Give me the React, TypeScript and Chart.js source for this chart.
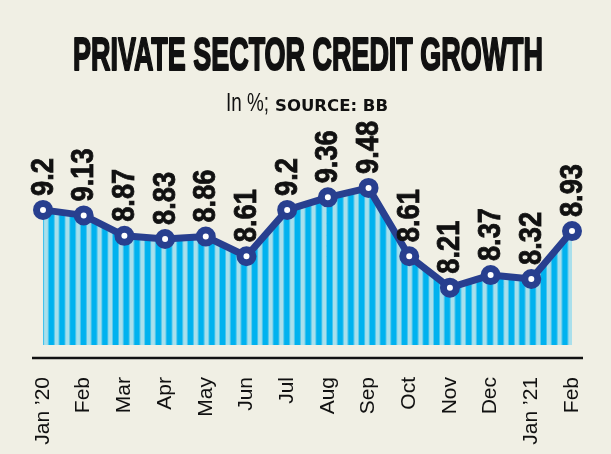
import { useEffect, useRef } from "react";
import { Chart, registerables } from "chart.js";

Chart.register(...registerables);

const months = ["Jan ’20", "Feb", "Mar", "Apr", "May", "Jun", "Jul", "Aug", "Sep", "Oct", "Nov", "Dec", "Jan ’21", "Feb"];
const growth = [9.2, 9.13, 8.87, 8.83, 8.86, 8.61, 9.2, 9.36, 9.48, 8.61, 8.21, 8.37, 8.32, 8.93];
const titleText = "PRIVATE SECTOR CREDIT GROWTH";
const unitText = "In %;";
const sourceText = "SOURCE: BB";

const BG = "#f0efe4";
const NAVY = "#283f8f";
const DARK = "#00b2ef";
const LIGHT = "#a9dfeb";
const INK = "#111111";

function makeStripes(ctx: CanvasRenderingContext2D): CanvasPattern | string {
  const c = document.createElement("canvas");
  c.width = 107;
  c.height = 4;
  const g = c.getContext("2d");
  if (!g) return DARK;
  g.fillStyle = LIGHT;
  g.fillRect(0, 0, 107, 4);
  g.fillStyle = DARK;
  for (let i = 0; i < 10; i++) g.fillRect(i * 10.7, 0, 6, 4);
  const p = ctx.createPattern(c, "repeat");
  if (!p) return DARK;
  try {
    p.setTransform(new DOMMatrix().translate(5.5, 0));
  } catch (e) {}
  return p;
}

function drawFitted(ctx: CanvasRenderingContext2D, text: string, font: string, left: number, width: number, baseline: number, bold: number) {
  ctx.save();
  ctx.font = font;
  ctx.textAlign = "left";
  ctx.textBaseline = "alphabetic";
  const w = ctx.measureText(text).width;
  ctx.translate(left, baseline);
  ctx.scale(width / w, 1);
  ctx.fillText(text, 0, 0);
  if (bold > 0) {
    ctx.strokeStyle = ctx.fillStyle as string;
    ctx.lineWidth = bold;
    ctx.lineJoin = "round";
    ctx.strokeText(text, 0, 0);
  }
  ctx.restore();
}

const decor = {
  id: "decor",
  beforeDraw(chart: any) {
    const ctx: CanvasRenderingContext2D = chart.ctx;
    ctx.save();
    ctx.fillStyle = BG;
    ctx.fillRect(0, 0, chart.width, chart.height);
    ctx.fillStyle = INK;
    drawFitted(ctx, titleText, "bold 47px 'Liberation Sans', Arial, sans-serif", 73, 470, 70, 2);
    drawFitted(ctx, unitText, "26px 'Liberation Sans', Arial, sans-serif", 226, 43, 111, 0);
    drawFitted(ctx, sourceText, "bold 15px 'DejaVu Sans', sans-serif", 275, 113, 111, 0);
    ctx.restore();
  },
  afterDatasetsDraw(chart: any) {
    const ctx: CanvasRenderingContext2D = chart.ctx;
    const area = chart.chartArea;
    ctx.save();
    ctx.strokeStyle = "#111";
    ctx.lineWidth = 2.5;
    ctx.beginPath();
    ctx.moveTo(area.left - 11, area.bottom + 13);
    ctx.lineTo(area.right + 11, area.bottom + 13);
    ctx.stroke();

    const meta = chart.getDatasetMeta(0);
    ctx.fillStyle = INK;
    ctx.strokeStyle = INK;
    ctx.lineWidth = 0.8;
    ctx.font = "bold 31px 'Liberation Sans', Arial, sans-serif";
    ctx.textAlign = "left";
    ctx.textBaseline = "middle";
    meta.data.forEach((pt: any, i: number) => {
      ctx.save();
      ctx.translate(pt.x, pt.y - 14);
      ctx.rotate(-Math.PI / 2);
      ctx.scale(0.88, 1);
      ctx.fillText(String(growth[i]), 0, 1);
      ctx.strokeText(String(growth[i]), 0, 1);
      ctx.restore();
    });
    ctx.restore();
  },
};

export default function App() {
  const ref = useRef<HTMLCanvasElement | null>(null);
  useEffect(() => {
    const canvas = ref.current;
    if (!canvas) return;
    const ctx = canvas.getContext("2d");
    if (!ctx) return;
    const pattern = makeStripes(ctx);
    const chart = new Chart(canvas, {
      type: "line",
      data: {
        labels: months,
        datasets: [
          {
            data: growth,
            borderColor: NAVY,
            borderWidth: 7,
            borderJoinStyle: "round",
            pointRadius: 6.5,
            pointHoverRadius: 6.5,
            pointBorderWidth: 7,
            pointBackgroundColor: "#ffffff",
            pointBorderColor: NAVY,
            fill: "start",
            backgroundColor: pattern as any,
            tension: 0,
            clip: false as any,
          },
        ],
      },
      options: {
        animation: false,
        responsive: false,
        events: [],
        layout: { padding: { left: 43, right: 39, top: 129, bottom: 0 } },
        plugins: {
          legend: { display: false },
          tooltip: { enabled: false },
          title: { display: false },
        },
        scales: {
          x: {
            offset: false,
            grid: { display: false, drawTicks: true, tickLength: 31 },
            border: { display: false },
            ticks: {
              autoSkip: false,
              maxRotation: 90,
              minRotation: 90,
              padding: 1,
              color: INK,
              font: { family: "'Liberation Sans', Arial, sans-serif", size: 21 },
            },
            afterFit(s: any) {
              s.height = 109;
            },
          },
          y: { display: false, min: 7.48, max: 10.23 },
        },
      },
      plugins: [decor],
    });
    return () => chart.destroy();
  }, []);
  return (
    <div style={{ position: "fixed", left: 0, top: 0, width: 611, height: 454, background: BG }}>
      <canvas ref={ref} width={611} height={454} style={{ display: "block" }} />
    </div>
  );
}
